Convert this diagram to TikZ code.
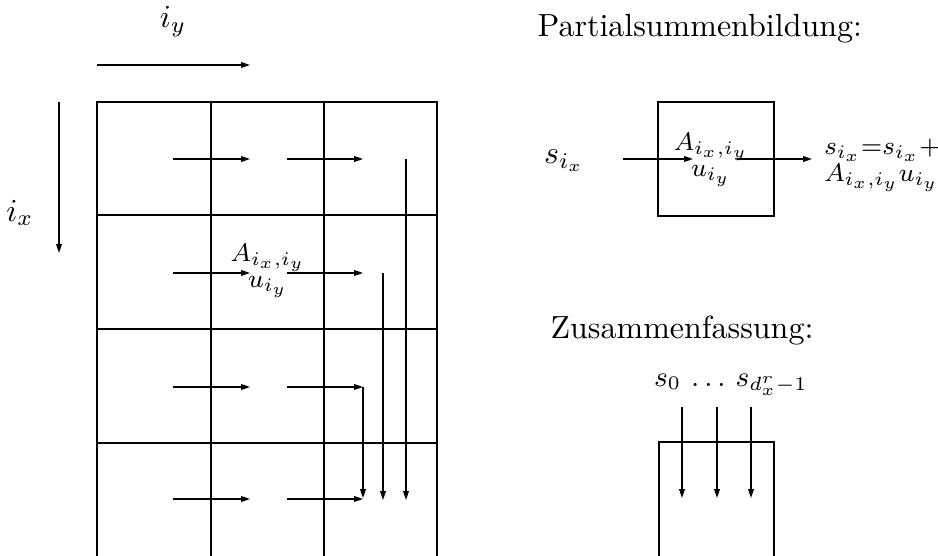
\documentclass[tikz,border=0pt]{standalone}
\usetikzlibrary{arrows.meta}
\begin{document}
\begin{tikzpicture}[x=0.3125pt, y=-0.3125pt,
    flow/.style={-{Triangle[length=2.8pt,width=1.8pt]}, line width=0.4pt},
    gridline/.style={line width=0.85pt},
    outline/.style={line width=0.6pt},
    lbl/.style={inner sep=1pt},
    small lbl/.style={inner sep=0.5pt, font=\footnotesize},
    title/.style={anchor=base west, inner sep=0pt}]
  \useasboundingbox (0,0) rectangle (938,555);
  % index directions
  \node[lbl] (iy) at (173,22) {$i_y$};
  \coordinate (iys) at (97,65);
  \coordinate (iye) at (250,65);
  \draw[flow] (iys) -- (iye);
  \node[lbl] (ix) at (20,213) {$i_x$};
  \coordinate (ixs) at (59,102);
  \coordinate (ixe) at (59,253);
  \draw[flow] (ixs) -- (ixe);
  % grid of blocks
  \draw[outline] (97,556) -- (97,102) -- (437,102) -- (437,556);
  \foreach \y in {215,329,443} \draw[gridline] (97,\y) -- (437,\y);
  \foreach \x in {211,324} \draw[gridline] (\x,102) -- (\x,556);
  % flows along the rows
  \foreach \r/\y in {1/159,2/273,3/387,4/499} {
    \coordinate (a\r) at (173,\y);
    \coordinate (b\r) at (250,\y);
    \coordinate (c\r) at (287,\y);
    \coordinate (d\r) at (363,\y);
    \draw[flow] (a\r) -- (b\r);
    \draw[flow] (c\r) -- (d\r);
  }
  \node[small lbl] (aA) at (268,258) {$A_{i_x,i_y}$};
  \node[small lbl] (au) at (268,287) {$u_{i_y}$};
  % collecting the partial sums
  \coordinate (v1) at (406,159);
  \coordinate (w1) at (406,500);
  \coordinate (v2) at (383,273);
  \coordinate (w2) at (383,500);
  \coordinate (w3) at (363,498);
  \draw[flow] (v1) -- (w1);
  \draw[flow] (v2) -- (w2);
  \draw[flow] (d3) -- (w3);
  % Partialsummenbildung
  \node[title] (pst) at (537,36) {Partialsummenbildung:};
  \node[draw, outline, minimum width=36pt, minimum height=35.6pt,
        inner sep=0pt] (pbox) at (716,159) {};
  \node[small lbl] (pA) at (711,147) {$A_{i_x,i_y}$};
  \node[small lbl] (pu) at (711,176) {$u_{i_y}$};
  \node[lbl] (sin) at (564,161) {$s_{i_x}$};
  \coordinate (pin) at (623,159);
  \coordinate (pine) at (693,159);
  \coordinate (pout) at (737,159);
  \coordinate (poute) at (812,159);
  \draw[flow] (pin) -- (pine);
  \draw[flow] (pout) -- (poute);
  \node[small lbl, anchor=west] (sout) at (822,150) {$s_{i_x}{=}s_{i_x}{+}$};
  \node[small lbl, anchor=west] (sadd) at (822,178) {$A_{i_x,i_y}u_{i_y}$};
  % Zusammenfassung
  \node[title] (zst) at (550,338) {Zusammenfassung:};
  \node[lbl, font=\small] (sall) at (731,385) {$s_0\,\ldots\,s_{d_x^r-1}$};
  \draw[outline] (659,556) -- (659,442) -- (774,442) -- (774,556);
  \foreach \i/\x in {1/682,2/717,3/751} {
    \coordinate (zs\i) at (\x,407);
    \coordinate (ze\i) at (\x,498);
    \draw[flow] (zs\i) -- (ze\i);
  }
\end{tikzpicture}
\end{document}
